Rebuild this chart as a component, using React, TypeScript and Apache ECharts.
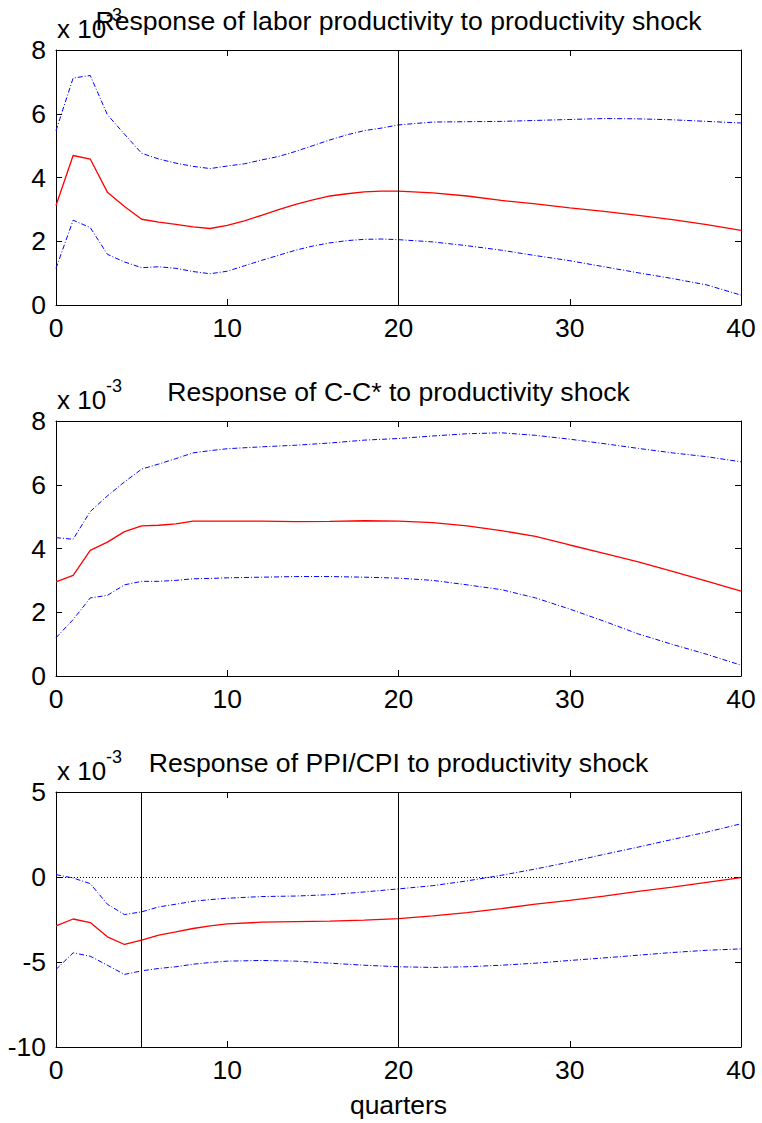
import React, { useEffect, useRef } from "react";
import * as echarts from "echarts";

// ---- Data (values in units of 1e-3) ----
const q1 = [0,1,2,3,4,5,6,7,8,9,10,11,12,13,14,15,16,17,18,19,20,22,24,26,28,30,32,34,36,38,40];
const laborMid = [3.12,4.69,4.58,3.54,3.09,2.69,2.60,2.53,2.45,2.40,2.50,2.64,2.81,2.99,3.16,3.30,3.42,3.49,3.55,3.57,3.57,3.52,3.42,3.28,3.17,3.05,2.94,2.81,2.68,2.52,2.34];
const laborUp = [5.47,7.12,7.20,5.97,5.36,4.76,4.58,4.45,4.35,4.28,4.36,4.43,4.55,4.66,4.82,5.00,5.18,5.34,5.47,5.55,5.65,5.74,5.75,5.76,5.79,5.82,5.85,5.84,5.81,5.76,5.71];
const laborLo = [1.15,2.66,2.43,1.59,1.35,1.17,1.20,1.15,1.05,0.98,1.06,1.23,1.40,1.56,1.72,1.85,1.95,2.02,2.06,2.07,2.05,1.98,1.86,1.72,1.55,1.39,1.20,1.01,0.83,0.63,0.31];

const q2 = [0,1,2,3,4,5,6,7,8,9,10,12,14,16,18,20,22,24,26,28,30,32,34,36,38,40];
const consMid = [2.95,3.16,3.94,4.20,4.53,4.71,4.73,4.77,4.86,4.86,4.86,4.86,4.84,4.85,4.87,4.86,4.81,4.71,4.56,4.38,4.11,3.85,3.58,3.28,2.98,2.66];
const consUp = [4.34,4.29,5.16,5.65,6.09,6.49,6.65,6.82,7.00,7.07,7.13,7.19,7.24,7.31,7.40,7.45,7.53,7.60,7.63,7.55,7.43,7.29,7.14,7.00,6.88,6.72];
const consLo = [1.20,1.77,2.45,2.53,2.86,2.97,2.97,3.00,3.05,3.06,3.08,3.10,3.12,3.12,3.10,3.07,3.00,2.86,2.71,2.45,2.10,1.72,1.32,0.99,0.68,0.34];

const q3 = [0,1,2,3,4,5,6,7,8,9,10,12,14,16,18,20,22,24,26,28,30,32,34,36,38,40];
const ppiMid = [-2.88,-2.47,-2.68,-3.52,-3.97,-3.72,-3.42,-3.23,-3.03,-2.88,-2.76,-2.66,-2.62,-2.60,-2.54,-2.45,-2.29,-2.09,-1.86,-1.60,-1.37,-1.12,-0.84,-0.59,-0.31,-0.04];
const ppiUp = [0.14,-0.06,-0.39,-1.60,-2.21,-2.05,-1.76,-1.60,-1.43,-1.33,-1.25,-1.15,-1.12,-1.04,-0.88,-0.70,-0.51,-0.23,0.10,0.47,0.88,1.33,1.76,2.21,2.64,3.13];
const ppiLo = [-5.44,-4.46,-4.66,-5.19,-5.73,-5.52,-5.38,-5.28,-5.13,-5.03,-4.95,-4.91,-4.95,-5.07,-5.19,-5.28,-5.32,-5.28,-5.19,-5.07,-4.91,-4.76,-4.60,-4.44,-4.31,-4.23];

const titles = [
  "Response of labor productivity to productivity shock",
  "Response of C-C* to productivity shock",
  "Response of PPI/CPI to productivity shock",
];
const yRanges = [
  { min: 0, max: 8, interval: 2 },
  { min: 0, max: 8, interval: 2 },
  { min: -10, max: 5, interval: 5 },
];
const xTicks = { min: 0, max: 40, interval: 10 };
const vLines = [[20], [], [5, 20]];
const xLabel = "quarters";

const FONT = "'Liberation Sans', Arial, Helvetica, sans-serif";

export default function App() {
  const ref = useRef<HTMLDivElement>(null);
  useEffect(() => {
    if (!ref.current) return;
    const chart = echarts.init(ref.current, null, { renderer: "svg" });
    const gridTops = [50, 421, 792];
    const gridH = 255;
    const grids = gridTops.map((t) => ({ left: 56, right: 21, top: t, height: gridH }));

    const xAxes: any[] = [];
    const yAxes: any[] = [];
    grids.forEach((_, i) => {
      const axisLine = { show: true, onZero: false, lineStyle: { color: "#000", width: 1 } };
      const axisTick = { show: true, inside: true, length: 6, lineStyle: { color: "#000", width: 1 } };
      xAxes.push({
        type: "value", gridIndex: i, ...xTicks, position: "bottom",
        axisLine, axisTick, splitLine: { show: false },
        axisLabel: { color: "#000", fontSize: 26.5, fontFamily: FONT, margin: 9 },
      });
      xAxes.push({
        type: "value", gridIndex: i, ...xTicks, position: "top",
        axisLine, axisTick, splitLine: { show: false }, axisLabel: { show: false },
      });
      yAxes.push({
        type: "value", gridIndex: i, ...yRanges[i], position: "left",
        axisLine, axisTick, splitLine: { show: false },
        axisLabel: { color: "#000", fontSize: 26.5, fontFamily: FONT, margin: 10 },
      });
      yAxes.push({
        type: "value", gridIndex: i, ...yRanges[i], position: "right",
        axisLine, axisTick, splitLine: { show: false }, axisLabel: { show: false },
      });
    });

    const panels = [
      { q: q1, mid: laborMid, up: laborUp, lo: laborLo },
      { q: q2, mid: consMid, up: consUp, lo: consLo },
      { q: q3, mid: ppiMid, up: ppiUp, lo: ppiLo },
    ];
    const series: any[] = [];
    panels.forEach((p, i) => {
      const mk = (arr: number[]) => p.q.map((x, k) => [x, arr[k]]);
      const mlData: any[] = vLines[i].map((v) => ({ xAxis: v, lineStyle: { color: "#000", type: "solid", width: 1 } }));
      if (i === 2) mlData.push({ yAxis: 0, lineStyle: { color: "#000", type: [1, 2], width: 1 } });
      series.push({
        type: "line", xAxisIndex: 2 * i, yAxisIndex: 2 * i, data: mk(p.up), showSymbol: false,
        lineStyle: { color: "#0000ff", width: 1, type: [5, 2, 1, 2] }, z: 3,
      });
      series.push({
        type: "line", xAxisIndex: 2 * i, yAxisIndex: 2 * i, data: mk(p.lo), showSymbol: false,
        lineStyle: { color: "#0000ff", width: 1, type: [5, 2, 1, 2] }, z: 3,
      });
      series.push({
        type: "line", xAxisIndex: 2 * i, yAxisIndex: 2 * i, data: mk(p.mid), showSymbol: false,
        lineStyle: { color: "#ff0000", width: 1.3 }, z: 4,
        markLine: mlData.length ? { silent: true, symbol: ["none", "none"], label: { show: false }, data: mlData, animation: false } : undefined,
      });
    });

    const graphics: any[] = [];
    gridTops.forEach((t, i) => {
      graphics.push({
        type: "text", x: 57, y: t - 21, z: 10,
        style: { text: "x 10", font: `26px ${FONT}`, fill: "#000", textAlign: "left", textVerticalAlign: "middle" },
      });
      graphics.push({
        type: "text", x: 106, y: t - 35, z: 10,
        style: { text: "-3", font: `18px ${FONT}`, fill: "#000", textAlign: "left", textVerticalAlign: "middle" },
      });
      graphics.push({
        type: "text", x: 398.5, y: t - 29, z: 11,
        style: { text: titles[i], font: `26.6px ${FONT}`, fill: "#000", textAlign: "center", textVerticalAlign: "middle" },
      });
    });
    graphics.push({
      type: "text", x: 398.5, y: 1105,
      style: { text: xLabel, font: `26.5px ${FONT}`, fill: "#000", textAlign: "center", textVerticalAlign: "middle" },
    });

    chart.setOption({
      animation: false,
      backgroundColor: "#fff",
      grid: grids,
      xAxis: xAxes,
      yAxis: yAxes,
      series,
      graphic: graphics,
    });
    return () => chart.dispose();
  }, []);
  return <div ref={ref} style={{ position: "absolute", left: 0, top: 0, width: 762, height: 1123 }} />;
}
